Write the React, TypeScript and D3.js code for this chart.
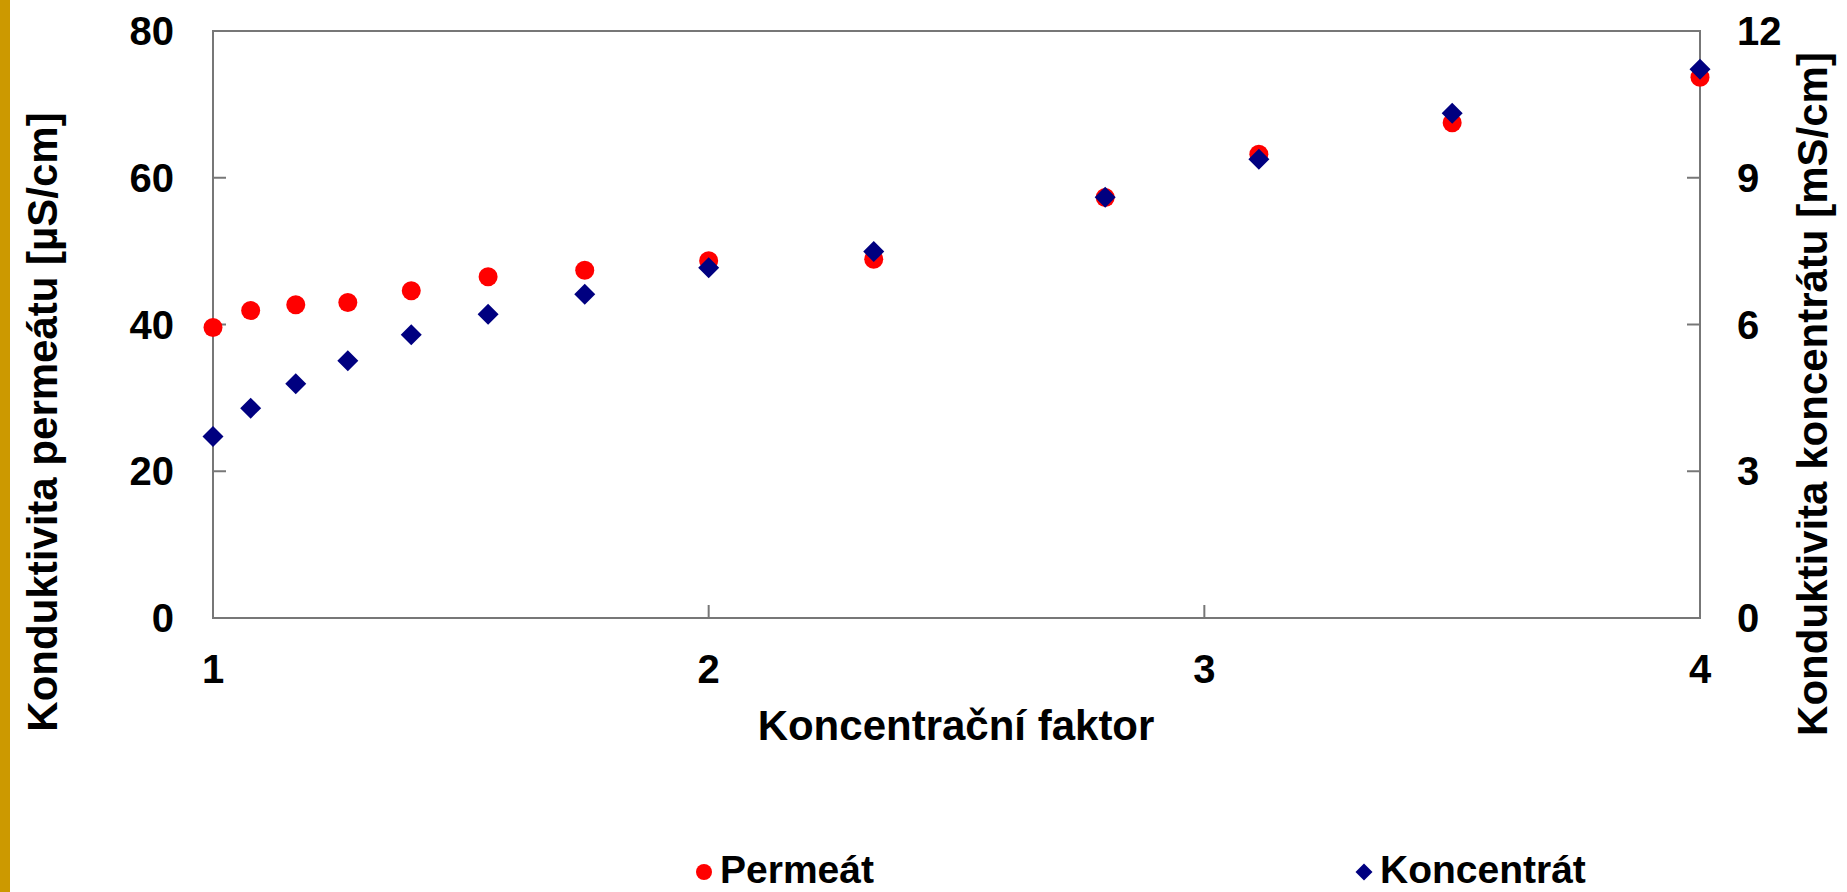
import React from 'react';
import * as d3 from 'd3';

const faktor = [1, 1.076, 1.167, 1.272, 1.4, 1.555, 1.75, 2, 2.333, 2.8, 3.11, 3.5, 4];
const permeat = [39.6, 41.9, 42.7, 43.0, 44.6, 46.5, 47.4, 48.7, 48.9, 57.3, 63.2, 67.5, 73.7];
const koncentrat = [3.71, 4.29, 4.79, 5.26, 5.79, 6.21, 6.62, 7.16, 7.49, 8.6, 9.38, 10.32, 11.22];

const xTicks = [1, 2, 3, 4];
const leftTicks = [0, 20, 40, 60, 80];
const rightTicks = [0, 3, 6, 9, 12];

const W = 1847;
const H = 892;
const left = 213, right = 1700, top = 31, bottom = 618;
const font = '"Liberation Sans", Arial, sans-serif';

export default function App() {
  const x = d3.scaleLinear().domain([1, 4]).range([left, right]);
  const yL = d3.scaleLinear().domain([0, 80]).range([bottom, top]);
  const yR = d3.scaleLinear().domain([0, 12]).range([bottom, top]);

  const diamond = (cx: number, cy: number, h: number) =>
    `M${cx},${cy - h}L${cx + h},${cy}L${cx},${cy + h}L${cx - h},${cy}Z`;

  return (
    <svg width={W} height={H} style={{ position: 'absolute', left: 0, top: 0, background: '#fff' }}>
      <rect x={0} y={0} width={10} height={H} fill="#CC9900" />

      <rect x={left} y={top} width={right - left} height={bottom - top} fill="none" stroke="#777" strokeWidth={2} />

      {leftTicks.map(t => (
        <g key={'l' + t}>
          <line x1={left} x2={left + 13} y1={yL(t)} y2={yL(t)} stroke="#777" strokeWidth={2} />
          <text x={174} y={yL(t) + 14} textAnchor="end" fontFamily={font} fontWeight="bold" fontSize={40}>{t}</text>
        </g>
      ))}
      {rightTicks.map(t => (
        <g key={'r' + t}>
          <line x1={right - 13} x2={right} y1={yR(t)} y2={yR(t)} stroke="#777" strokeWidth={2} />
          <text x={1737} y={yR(t) + 14} textAnchor="start" fontFamily={font} fontWeight="bold" fontSize={40}>{t}</text>
        </g>
      ))}
      {xTicks.map(t => (
        <g key={'x' + t}>
          <line x1={x(t)} x2={x(t)} y1={bottom - 13} y2={bottom} stroke="#777" strokeWidth={2} />
          <text x={x(t)} y={683} textAnchor="middle" fontFamily={font} fontWeight="bold" fontSize={40}>{t}</text>
        </g>
      ))}

      <text x={956} y={740} textAnchor="middle" fontFamily={font} fontWeight="bold" fontSize={42}>Koncentrační faktor</text>
      <text transform="translate(57,422) rotate(-90)" textAnchor="middle" fontFamily={font} fontWeight="bold" fontSize={42}>
        Konduktivita permeátu [µS/cm]
      </text>
      <text transform="translate(1827,394) rotate(-90)" textAnchor="middle" fontFamily={font} fontWeight="bold" fontSize={42}>
        Konduktivita koncentrátu [mS/cm]
      </text>

      {faktor.map((f, i) => (
        <circle key={'p' + i} cx={x(f)} cy={yL(permeat[i])} r={9.5} fill="#FF0000" />
      ))}
      {faktor.map((f, i) => (
        <path key={'k' + i} d={diamond(x(f), yR(koncentrat[i]), 10.5)} fill="#000080" />
      ))}

      <circle cx={704} cy={872} r={8} fill="#FF0000" />
      <text x={720} y={883} fontFamily={font} fontWeight="bold" fontSize={39}>Permeát</text>
      <path d={diamond(1364, 872, 8.5)} fill="#000080" />
      <text x={1380} y={883} fontFamily={font} fontWeight="bold" fontSize={39}>Koncentrát</text>
    </svg>
  );
}
